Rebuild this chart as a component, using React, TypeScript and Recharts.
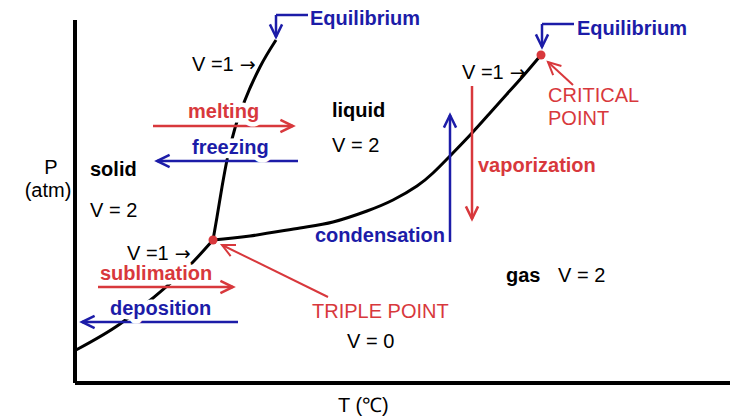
import React from 'react';
import {
  ComposedChart, Line, Scatter, XAxis, YAxis, ReferenceLine, ReferenceDot
} from 'recharts';

// Schematic phase diagram, T and P in arbitrary units (no ticks on the original)
const RED = '#d8383c';
const BLUE = '#1c1ca8';
const FONT = '"Liberation Sans", Arial, sans-serif';

// phase boundaries
const sublimationT = [1, 45, 78, 118, 138];
const sublimationP = [33, 59, 85, 121, 143];
const meltingT = [138, 142, 147, 152, 160, 170, 185, 201];
const meltingP = [143, 166, 196, 223, 255, 283, 316, 343];
const vaporT = [138, 175, 225, 258, 292, 318, 342, 358, 375, 397, 415, 432, 449, 466];
const vaporP = [143, 147, 155, 161, 172, 183, 197, 210, 227, 250, 270, 289, 308, 328];

const triplePoint = { t: 138, p: 143 };
const criticalPoint = { t: 466, p: 328 };

// axis extents
const axisT = [0, 663];
const axisP = [0, 363];

// text annotations: text, anchor point, kind
const labelTexts = [
  'Equilibrium', 'Equilibrium', 'V =1', 'V =1', 'V =1',
  'melting', 'freezing', 'liquid', 'V = 2', 'solid', 'V = 2', 'P', '(atm)',
  'sublimation', 'deposition', 'TRIPLE POINT', 'V = 0', 'condensation',
  'vaporization', 'CRITICAL', 'POINT', 'gas', 'V = 2', 'T (℃)',
];
const labelT = [
  235, 502, 117, 387, 52,
  113, 117, 257, 257, 15, 15, -24, -27,
  25, 35, 237, 272, 240,
  403, 473, 473, 431, 483, 263,
];
const labelP = [
  358, 348, 312, 304, 123,
  265, 229, 266, 231, 207, 166, 209, 186,
  103, 68, 65, 35, 141,
  211, 281, 258, 101, 101, -29,
];
const labelKind = [
  'blue', 'blue', 'pointer', 'pointer', 'pointer',
  'redHalo', 'blueHalo', 'bold', 'plain', 'bold', 'plain', 'axis', 'axis',
  'redHalo', 'blueHalo', 'redPlain', 'plain', 'blue',
  'red', 'redPlain', 'redPlain', 'bold', 'plain', 'plain',
];

// arrows: from (t1,p1) to (t2,p2), kind
const arrowFrom = [
  [78, 257], [223, 222], [23, 96], [163, 61], [253, 86],
  [375, 141], [397, 297], [498, 298],
  [233, 368], [201, 368], [499, 359], [467, 359],
];
const arrowTo = [
  [218, 257], [82, 222], [158, 96], [7, 61], [147, 138],
  [375, 268], [397, 164], [473, 321],
  [201, 368], [201, 346], [467, 359], [467, 336],
];
const arrowKind = [
  'red', 'blue', 'red', 'blue', 'redThin',
  'blue', 'red', 'redThin',
  'blueLine', 'blue', 'blueLine', 'blue',
];

const styles: Record<string, { fill: string; bold: boolean; halo?: boolean; anchor?: string; arrow?: boolean }> = {
  blue: { fill: BLUE, bold: true },
  blueHalo: { fill: BLUE, bold: true, halo: true },
  red: { fill: RED, bold: true },
  redHalo: { fill: RED, bold: true, halo: true },
  redPlain: { fill: RED, bold: false },
  bold: { fill: '#000', bold: true },
  plain: { fill: '#000', bold: false },
  pointer: { fill: '#000', bold: false, arrow: true },
  axis: { fill: '#000', bold: false, anchor: 'middle' },
};

const arrowStyles: Record<string, { stroke: string; width: number; head: boolean }> = {
  red: { stroke: RED, width: 2.5, head: true },
  redThin: { stroke: RED, width: 2, head: true },
  blue: { stroke: BLUE, width: 2.5, head: true },
  blueLine: { stroke: BLUE, width: 2.5, head: false },
};

const toPoints = (ts: number[], ps: number[]) => ts.map((t, i) => ({ t, p: ps[i] }));

const labels = labelTexts.map((text, i) => ({ text, t: labelT[i], p: labelP[i], kind: labelKind[i] }));

const LabelShape = (props: any) => {
  const { cx, cy, payload } = props;
  const s = styles[payload.kind];
  return (
    <text
      x={cx}
      y={cy}
      fill={s.fill}
      fontFamily={FONT}
      fontSize={20}
      fontWeight={s.bold ? 700 : 400}
      textAnchor={s.anchor || 'start'}
      stroke={s.halo ? '#fff' : 'none'}
      strokeWidth={s.halo ? 9 : 0}
      strokeLinejoin="round"
      paintOrder="stroke"
    >
      {payload.text}
      {s.arrow && (
        <tspan fontFamily='"DejaVu Sans", sans-serif' fontSize={19} dx={6}>→</tspan>
      )}
    </text>
  );
};

const arrowShape = (kind: string) => (props: any) => {
  const { x1, y1, x2, y2 } = props;
  const s = arrowStyles[kind];
  const ang = Math.atan2(y2 - y1, x2 - x1);
  const len = 14;
  const spread = 0.45;
  const a = [x2 - len * Math.cos(ang - spread), y2 - len * Math.sin(ang - spread)];
  const b = [x2 - len * Math.cos(ang + spread), y2 - len * Math.sin(ang + spread)];
  return (
    <g>
      <line x1={x1} y1={y1} x2={x2} y2={y2} stroke={s.stroke} strokeWidth={s.width} />
      {s.head && (
        <polyline
          points={`${a[0]},${a[1]} ${x2},${y2} ${b[0]},${b[1]}`}
          fill="none"
          stroke={s.stroke}
          strokeWidth={s.width}
        />
      )}
    </g>
  );
};

export default function App() {
  return (
    <div style={{ width: 730, height: 409 }}>
      <ComposedChart width={730} height={409} margin={{ top: 0, right: 0, bottom: 0, left: 0 }}>
        <XAxis type="number" dataKey="t" domain={[-67, 663]} allowDataOverflow hide />
        <YAxis type="number" dataKey="p" domain={[-34, 375]} allowDataOverflow hide />

        {/* axes */}
        <ReferenceLine segment={[{ x: 0, y: axisP[0] }, { x: 0, y: axisP[1] }]} stroke="#000" strokeWidth={4} />
        <ReferenceLine segment={[{ x: axisT[0], y: 0 }, { x: axisT[1], y: 0 }]} stroke="#000" strokeWidth={4} />

        <Line data={toPoints(sublimationT, sublimationP)} dataKey="p" type="monotone" stroke="#000"
          strokeWidth={3} dot={false} activeDot={false} isAnimationActive={false} />
        <Line data={toPoints(meltingT, meltingP)} dataKey="p" type="monotone" stroke="#000"
          strokeWidth={3} dot={false} activeDot={false} isAnimationActive={false} />
        <Line data={toPoints(vaporT, vaporP)} dataKey="p" type="natural" stroke="#000"
          strokeWidth={3} dot={false} activeDot={false} isAnimationActive={false} />

        <Scatter data={labels} shape={LabelShape} isAnimationActive={false} />

        {arrowFrom.map((f, i) => (
          <ReferenceLine
            key={i}
            segment={[{ x: f[0], y: f[1] }, { x: arrowTo[i][0], y: arrowTo[i][1] }]}
            shape={arrowShape(arrowKind[i])}
          />
        ))}

        <ReferenceDot x={triplePoint.t} y={triplePoint.p} r={4.5} fill={RED} stroke="none" />
        <ReferenceDot x={criticalPoint.t} y={criticalPoint.p} r={4.5} fill={RED} stroke="none" />
      </ComposedChart>
    </div>
  );
}
